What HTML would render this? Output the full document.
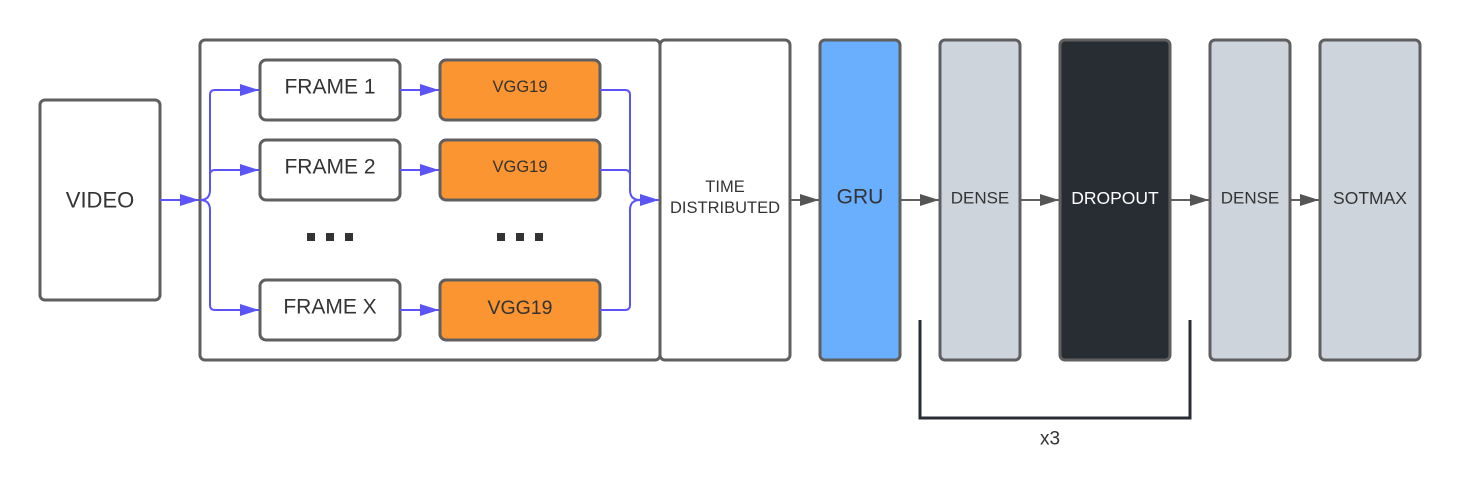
<!DOCTYPE html>
<html><head><style>body{margin:0;background:#fff}svg{display:block}text{font-family:"Liberation Sans",Arial,sans-serif;fill:#333;text-anchor:middle;dominant-baseline:central}</style></head><body>
<svg width="1460" height="500" viewBox="0 0 1460 500">
<defs>
<marker id="g" markerWidth="20" markerHeight="12" refX="19" refY="6" orient="auto" markerUnits="userSpaceOnUse"><path d="M0,0 L19,6 L0,12z" fill="#555"/></marker>
<marker id="bb" markerWidth="20" markerHeight="12" refX="19" refY="6" orient="auto" markerUnits="userSpaceOnUse"><path d="M0,0 L19,6 L0,12z" fill="#5b55f5"/></marker>
</defs>
<g stroke="#5f5f5f" stroke-width="3">
<rect x="40" y="100" width="120" height="200" rx="5" fill="#fff"/>
<rect x="200" y="40" width="460" height="320" rx="5" fill="#fff"/>
<rect x="660" y="40" width="130" height="320" rx="5" fill="#fff"/>
<rect x="260" y="60" width="140" height="60" rx="6" fill="#fff"/>
<rect x="260" y="140" width="140" height="60" rx="6" fill="#fff"/>
<rect x="260" y="280" width="140" height="60" rx="6" fill="#fff"/>
<rect x="440" y="60" width="160" height="60" rx="6" fill="#fb9532"/>
<rect x="440" y="140" width="160" height="60" rx="6" fill="#fb9532"/>
<rect x="440" y="280" width="160" height="60" rx="6" fill="#fb9532"/>
<rect x="820" y="40" width="80" height="320" rx="5" fill="#6aaefe"/>
<rect x="940" y="40" width="80" height="320" rx="5" fill="#ced4dc"/>
<rect x="1060" y="40" width="110" height="320" rx="5" fill="#282c33"/>
<rect x="1210" y="40" width="80" height="320" rx="5" fill="#ced4dc"/>
<rect x="1320" y="40" width="100" height="320" rx="5" fill="#ced4dc"/>
</g>
<g stroke="#5b55f5" stroke-width="2" fill="none">
<path d="M160,200 H199" marker-end="url(#bb)"/>
<path d="M200,200 Q210,200 210,190 V95 Q210,90 215,90 H259" marker-end="url(#bb)"/>
<path d="M210,190 V175 Q210,170 215,170 H259" marker-end="url(#bb)"/>
<path d="M200,200 Q210,200 210,210 V305 Q210,310 215,310 H259" marker-end="url(#bb)"/>
<path d="M400,90 H439" marker-end="url(#bb)"/>
<path d="M400,170 H439" marker-end="url(#bb)"/>
<path d="M400,310 H439" marker-end="url(#bb)"/>
<path d="M600,90 H625 Q630,90 630,95 V190 Q630,200 640,200"/>
<path d="M600,170 H625 Q630,170 630,175 V190"/>
<path d="M600,310 H625 Q630,310 630,305 V210 Q630,200 640,200 H659" marker-end="url(#bb)"/>
</g>
<g stroke="#5f5f5f" stroke-width="2">
<path d="M790,200 H819" marker-end="url(#g)"/>
<path d="M900,200 H939" marker-end="url(#g)"/>
<path d="M1020,200 H1059" marker-end="url(#g)"/>
<path d="M1170,200 H1209" marker-end="url(#g)"/>
<path d="M1290,200 H1319" marker-end="url(#g)"/>
</g>
<path d="M920,320 V418 H1190 V320" stroke="#282c33" stroke-width="3" fill="none"/>
<g fill="#333"><rect x="307" y="233" width="8" height="8"/><rect x="326" y="233" width="8" height="8"/><rect x="345" y="233" width="8" height="8"/><rect x="497" y="233" width="8" height="8"/><rect x="516" y="233" width="8" height="8"/><rect x="535" y="233" width="8" height="8"/></g>
<text x="100" y="200" font-size="22">VIDEO</text>
<text x="330" y="87" font-size="21">FRAME 1</text>
<text x="330" y="167" font-size="21">FRAME 2</text>
<text x="330" y="307" font-size="21">FRAME X</text>
<text x="520" y="87" font-size="16.5">VGG19</text>
<text x="520" y="167" font-size="16.5">VGG19</text>
<text x="520" y="308" font-size="19.5">VGG19</text>
<text x="725" y="187" font-size="16.5">TIME</text>
<text x="725" y="208" font-size="16.5">DISTRIBUTED</text>
<text x="860" y="197" font-size="21">GRU</text>
<text x="980" y="198" font-size="17">DENSE</text>
<text x="1115" y="198" font-size="17.5" style="fill:#fff">DROPOUT</text>
<text x="1250" y="198" font-size="17">DENSE</text>
<text x="1370" y="198" font-size="17.5">SOTMAX</text>
<text x="1050" y="439" font-size="19">x3</text>
</svg>
</body></html>
